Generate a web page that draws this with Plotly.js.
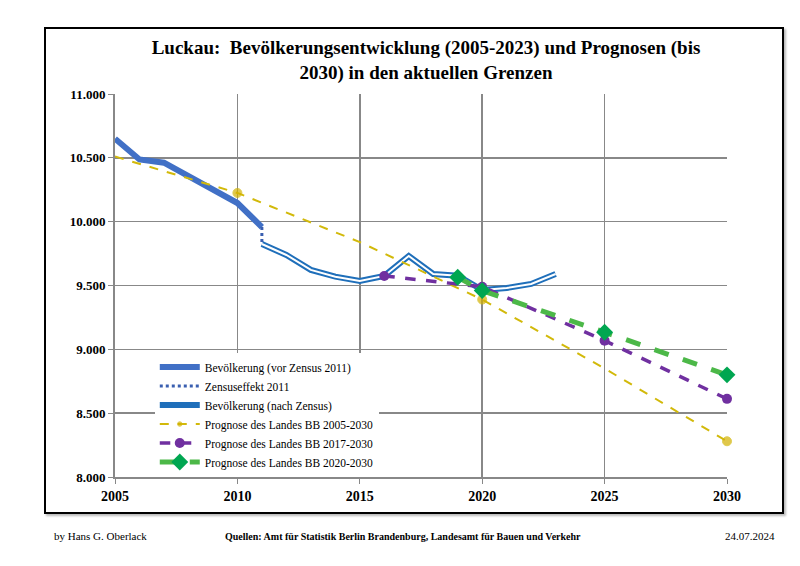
<!DOCTYPE html>
<html><head><meta charset="utf-8">
<script src="https://cdn.plot.ly/plotly-3.0.1.min.js"></script>
<style>html,body{margin:0;padding:0;background:#fff;}#frame{position:absolute;left:44px;top:27px;width:736px;height:483px;border:2px solid #000;pointer-events:none;box-shadow:2px 2px 2px #bbb;}</style>
</head><body>
<div id="chart" style="width:800px;height:566px;"></div>
<div id="frame"></div>
<script>
// Data
const yearsVor = [2005, 2006, 2007, 2008, 2009, 2010, 2011];
const popVor = [10650, 10487, 10462, 10360, 10250, 10146, 9958];
const yearsZensus = [2011, 2011];
const popZensus = [9958, 9825];
const yearsNach = [2011, 2012, 2013, 2014, 2015, 2016, 2017, 2018, 2019, 2020, 2021, 2022, 2023];
const popNach = [9825, 9739, 9622, 9569, 9536, 9575, 9731, 9590, 9577, 9465, 9480, 9512, 9590];
const yearsP05 = [2005, 2010, 2015, 2020, 2025, 2030];
const popP05 = [10510, 10225, 9840, 9390, 8850, 8280];
const markP05 = [0, 9, 0, 9, 0, 9];
const yearsP17 = [2016, 2020, 2025, 2030];
const popP17 = [9575, 9490, 9068, 8612];
const yearsP20 = [2019, 2020, 2025, 2030];
const popP20 = [9565, 9460, 9134, 8800];
const xTicks = [2005, 2010, 2015, 2020, 2025, 2030];
const yTicks = [8000, 8500, 9000, 9500, 10000, 10500, 11000];

const serif = "Liberation Serif, DejaVu Serif, serif";
const traces = [
  {x: yearsVor, y: popVor, name: "Bevölkerung (vor Zensus 2011)", mode: "lines",
   line: {color: "#4170c6", width: 6}},
  {x: yearsZensus, y: popZensus, name: "Zensuseffekt 2011", mode: "lines",
   line: {color: "#3a5fb0", width: 3, dash: "dot"}},
  {x: yearsNach, y: popNach, name: "Bevölkerung (nach Zensus)", mode: "lines",
   line: {color: "#1f6fba", width: 6}},
  {x: yearsNach, y: popNach, name: "nach Zensus (innen)", mode: "lines", showlegend: false,
   line: {color: "#ffffff", width: 2}, hoverinfo: "skip"},
  {x: yearsP05, y: popP05, name: "Prognose des Landes BB 2005-2030", mode: "lines+markers", cliponaxis: false,
   line: {color: "#d2b90a", width: 2, dash: "dash"}, marker: {color: "#d4b000", size: markP05}},
  {x: yearsP17, y: popP17, name: "Prognose des Landes BB 2017-2030", mode: "lines+markers", cliponaxis: false,
   line: {color: "#7030a0", width: 3.5, dash: "dash"}, marker: {color: "#7030a0", size: 10}},
  {x: yearsP20, y: popP20, name: "Prognose des Landes BB 2020-2030", mode: "lines+markers", cliponaxis: false,
   line: {color: "#4cb848", width: 5, dash: "dash"}, marker: {color: "#00a651", size: 13, symbol: "diamond"}}
];

const layout = {
  width: 800, height: 566,
  margin: {l: 115, r: 73, t: 94, b: 89},
  paper_bgcolor: "#fff", plot_bgcolor: "#fff",
  separators: ",.",
  showlegend: true,
  title: {text: "Luckau:&nbsp; Bevölkerungsentwicklung (2005-2023) und Prognosen (bis<br>2030) in den aktuellen Grenzen",
    x: 426 / 800, xref: "container", xanchor: "center", y: 0.904, yanchor: "top",
    font: {family: serif, size: 19, color: "#000", weight: "bold"}},
  xaxis: {range: [2005, 2030], tickvals: xTicks, ticktext: xTicks.map(String),
    showgrid: true, gridcolor: "#888", gridwidth: 1.5, zeroline: false,
    showline: true, linecolor: "#888", linewidth: 2, ticks: "outside", ticklen: 5, tickcolor: "#888",
    tickfont: {family: serif, size: 14, color: "#000", weight: "bold"}},
  yaxis: {range: [8000, 11000], tickvals: yTicks, tickformat: ",d",
    showgrid: true, gridcolor: "#888", gridwidth: 1.5, zeroline: false,
    showline: true, linecolor: "#888", linewidth: 2, ticks: "outside", ticklen: 5, tickcolor: "#888",
    mirror: false,
    tickfont: {family: serif, size: 13, color: "#000", weight: "bold"}},
  legend: {x: 0.065, y: 0.325, xanchor: "left", yanchor: "top", bgcolor: "#fff",
    borderwidth: 0, tracegroupgap: 0, itemwidth: 40,
    font: {family: serif, size: 11.5, color: "#000"}},
  annotations: [
    {text: "by Hans G. Oberlack", xref: "paper", yref: "paper", x: -0.103, y: -0.155, xanchor: "left", yanchor: "middle",
     showarrow: false, font: {family: serif, size: 11, color: "#000"}},
    {text: "Quellen: Amt für Statistik Berlin Brandenburg, Landesamt für Bauen und Verkehr", xref: "paper", yref: "paper",
     x: (403 - 115) / 612, y: -0.155, xanchor: "center", yanchor: "middle",
     showarrow: false, font: {family: serif, size: 10, color: "#000", weight: "bold"}},
    {text: "24.07.2024", xref: "paper", yref: "paper", x: (777 - 115) / 612, y: -0.155, xanchor: "right", yanchor: "middle",
     showarrow: false, font: {family: serif, size: 11, color: "#000"}}
  ]
};
Plotly.newPlot("chart", traces, layout, {displayModeBar: false, staticPlot: true});
</script>
</body></html>
